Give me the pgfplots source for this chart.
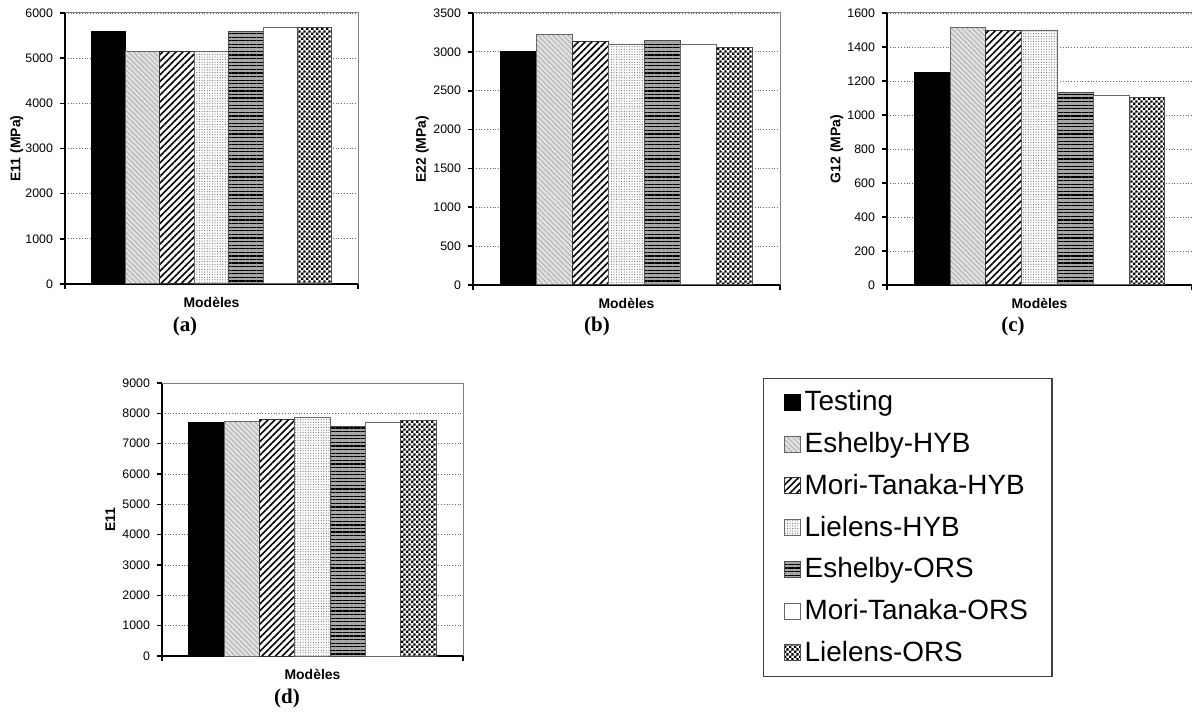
\documentclass[border=0pt]{standalone}
\usepackage{fontspec}
\setmainfont{Liberation Sans}
\newfontfamily\timesf{Liberation Serif}
\usepackage{pgfplots}
\pgfplotsset{compat=1.18}
\usetikzlibrary{patterns,patterns.meta}

\pgfdeclarepatternformonly{finecheck}{\pgfpointorigin}{\pgfqpoint{2.4pt}{2.4pt}}{\pgfqpoint{2.4pt}{2.4pt}}{%
 \pgfpathrectangle{\pgfpointorigin}{\pgfqpoint{1.2pt}{1.2pt}}%
 \pgfpathrectangle{\pgfqpoint{1.2pt}{1.2pt}}{\pgfqpoint{1.2pt}{1.2pt}}%
 \pgfusepath{fill}}

\tikzset{
 sTest/.style={fill=black, draw=black, line width=0.5pt},
 sEshH/.style={draw=black!60, line width=0.5pt, fill=black!12, postaction={pattern color=black!35, pattern={Lines[angle=-45,distance=1.8pt,line width=0.35pt]}}},
 sMTH/.style={draw=black!80, line width=0.5pt, fill=white, postaction={pattern color=black, pattern={Lines[angle=45,distance=2.4pt,line width=0.8pt]}}},
 sLiH/.style={draw=black!60, line width=0.5pt, fill=white, postaction={pattern color=black!55, pattern={Dots[distance=1.3pt,radius=0.3pt]}}},
 sEshO/.style={draw=black!70, line width=0.5pt, fill=black!35, postaction={pattern color=black, pattern={Lines[angle=0,distance=1.8pt,line width=0.6pt]}}},
 sMTO/.style={draw=black!60, line width=0.5pt, fill=white},
 sLiO/.style={draw=black!70, line width=0.5pt, fill=white, postaction={pattern color=black, pattern=finecheck}},
}

\pgfplotsset{
 sqlegend/.style={legend image code/.code={\draw[##1] (0bp,-4bp) rectangle (8bp,4bp);}},
 panel/.style={
  scale only axis, anchor=south west,
  ybar, bar width=1, bar shift=0pt,
  xmin=-1.26, xmax=7.26, ymin=0,
  axis x line*=bottom, axis y line*=left,
  axis line style={black, line width=1.1pt},
  xtick={-1.26,7.26}, xticklabels={},
  tick align=outside, major tick length=2.5bp,
  tick style={black, line width=0.8pt},
  ymajorgrids, major grid style={black!60, densely dotted, line width=0.4pt},
  scaled y ticks=false,
  yticklabel style={font=\fontsize{6.2}{7}\selectfont, /pgf/number format/1000 sep={}, /pgf/number format/assume math mode=true},
  ylabel style={font=\bfseries\fontsize{7}{8}\selectfont, at={(axis description cs:-0.165,0.5)}, anchor=center},
  xlabel={Modèles},
  xlabel style={font=\bfseries\fontsize{7}{8}\selectfont, at={(axis description cs:0.5,0)}, anchor=center, yshift=-9bp},
  clip=false,
 },
}
\newcommand{\frameTR}{\draw[black!50, line width=0.5pt] (rel axis cs:0,1) -- (rel axis cs:1,1) -- (rel axis cs:1,0);}

\begin{document}
\begin{tikzpicture}[x=0.5bp, y=0.5bp]
\useasboundingbox (0,0) rectangle (1192,715);
\coordinate (pa) at (65,431);
\coordinate (pb) at (473,430);
\coordinate (pc) at (887,430);
\coordinate (pd) at (162,59);

% (a)
\begin{axis}[panel, at={(pa)}, width=146.5bp, height=135.5bp,
  ymax=6000, ytick={0,1000,...,6000}, ylabel={E11 (MPa)}]
 \frameTR
 \addplot[sTest, bar shift=0pt] coordinates {(0,5600)};
 \addplot[sEshH, bar shift=0pt] coordinates {(1,5150)};
 \addplot[sMTH, bar shift=0pt] coordinates {(2,5150)};
 \addplot[sLiH, bar shift=0pt] coordinates {(3,5150)};
 \addplot[sEshO, bar shift=0pt] coordinates {(4,5600)};
 \addplot[sMTO, bar shift=0pt] coordinates {(5,5670)};
 \addplot[sLiO, bar shift=0pt] coordinates {(6,5680)};
\end{axis}

% (b)
\begin{axis}[panel, at={(pb)}, width=153.5bp, height=136bp,
  ymax=3500, ytick={0,500,...,3500}, ylabel={E22 (MPa)}]
 \frameTR
 \addplot[sTest, bar shift=0pt] coordinates {(0,3000)};
 \addplot[sEshH, bar shift=0pt] coordinates {(1,3220)};
 \addplot[sMTH, bar shift=0pt] coordinates {(2,3130)};
 \addplot[sLiH, bar shift=0pt] coordinates {(3,3090)};
 \addplot[sEshO, bar shift=0pt] coordinates {(4,3150)};
 \addplot[sMTO, bar shift=0pt] coordinates {(5,3100)};
 \addplot[sLiO, bar shift=0pt] coordinates {(6,3060)};
\end{axis}

% (c)
\begin{axis}[panel, at={(pc)}, width=152.5bp, height=136bp,
  ymax=1600, ytick={0,200,...,1600}, ylabel={G12 (MPa)}]
 \frameTR
 \addplot[sTest, bar shift=0pt] coordinates {(0,1250)};
 \addplot[sEshH, bar shift=0pt] coordinates {(1,1515)};
 \addplot[sMTH, bar shift=0pt] coordinates {(2,1495)};
 \addplot[sLiH, bar shift=0pt] coordinates {(3,1495)};
 \addplot[sEshO, bar shift=0pt] coordinates {(4,1130)};
 \addplot[sMTO, bar shift=0pt] coordinates {(5,1115)};
 \addplot[sLiO, bar shift=0pt] coordinates {(6,1105)};
\end{axis}

% (d)
\begin{axis}[panel, at={(pd)}, width=150.5bp, height=136.5bp,
  ymax=9000, ytick={0,1000,...,9000}, ylabel={E11},
  ylabel style={at={(axis description cs:-0.172,0.5)}},
  legend cell align=left,
  legend style={at={(axis description cs:1.997,1.018)}, anchor=north west,
    draw=black!75, line width=0.6pt, font=\fontsize{14}{16}\selectfont,
    row sep=5.3bp, inner xsep=10bp, inner ysep=4bp}]
 \frameTR
 \addplot[sTest, bar shift=0pt, sqlegend] coordinates {(0,7700)};
 \addplot[sEshH, bar shift=0pt, sqlegend] coordinates {(1,7720)};
 \addplot[sMTH, bar shift=0pt, sqlegend] coordinates {(2,7800)};
 \addplot[sLiH, bar shift=0pt, sqlegend] coordinates {(3,7860)};
 \addplot[sEshO, bar shift=0pt, sqlegend] coordinates {(4,7550)};
 \addplot[sMTO, bar shift=0pt, sqlegend] coordinates {(5,7690)};
 \addplot[sLiO, bar shift=0pt, sqlegend] coordinates {(6,7750)};
 \legend{Testing, Eshelby-HYB, Mori-Tanaka-HYB, Lielens-HYB, Eshelby-ORS, Mori-Tanaka-ORS, Lielens-ORS}
\end{axis}

\node[font=\timesf\bfseries\fontsize{10.5}{12}\selectfont] at (185,389) {(a)};
\node[font=\timesf\bfseries\fontsize{10.5}{12}\selectfont] at (597,389) {(b)};
\node[font=\timesf\bfseries\fontsize{10.5}{12}\selectfont] at (1013,389) {(c)};
\node[font=\timesf\bfseries\fontsize{10.5}{12}\selectfont] at (287,17) {(d)};
\end{tikzpicture}
\end{document}
